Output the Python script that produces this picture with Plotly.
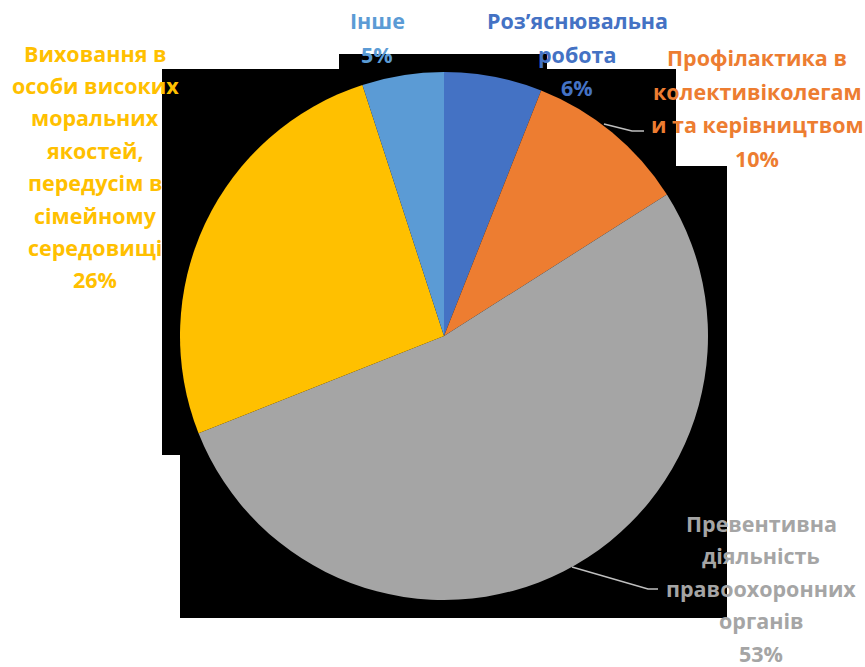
import plotly.graph_objects as go

# Survey shares, clockwise from 12 o'clock
categories = [
    "Роз’яснювальна робота",
    "Профілактика в колективіколегам и та керівництвом",
    "Превентивна діяльність правоохоронних органів",
    "Виховання в особи високих моральних якостей, передусім в сімейному середовищі",
    "Інше",
]
values = [6, 10, 53, 26, 5]
colors = ["#4472C4", "#ED7D31", "#A5A5A5", "#FFC000", "#5B9BD5"]

# Label text broken into display lines
label_lines = [
    ["Роз’яснювальна", "робота"],
    ["Профілактика в", "колективіколегам", "и та керівництвом"],
    ["Превентивна", "діяльність", "правоохоронних", "органів"],
    ["Виховання в", "особи високих", "моральних", "якостей,", "передусім в", "сімейному", "середовищі"],
    ["Інше"],
]

W, H = 865, 667


def px(x):
    return x / W


def py(y):
    return 1 - y / H


# label anchor: centre x and y of first line (pixels), line step
label_pos = [
    (577, 21, 33),
    (757, 58, 33.5),
    (761, 523, 32.5),
    (95, 53, 32.4),
    (377, 21, 34),
]

fig = go.Figure()

cx, cy, r = 444, 336, 264
fig.add_trace(go.Pie(
    labels=categories,
    values=values,
    sort=False,
    direction="clockwise",
    rotation=0,
    marker=dict(colors=colors, line=dict(width=0)),
    textinfo="none",
    hoverinfo="label+percent",
    showlegend=False,
    domain=dict(x=[px(cx - r), px(cx + r)], y=[py(cy + r), py(cy - r)]),
))

# dark backdrop behind the pie
shapes = []
for x0, y0, x1, y1 in [(162, 69, 727, 455), (180, 455, 727, 618), (339, 54, 547, 69)]:
    shapes.append(dict(type="rect", xref="paper", yref="paper",
                       x0=px(x0), x1=px(x1), y0=py(y1), y1=py(y0),
                       fillcolor="black", line=dict(width=0), layer="below"))
shapes.append(dict(type="rect", xref="paper", yref="paper",
                   x0=px(676), x1=px(728), y0=py(166), y1=py(68),
                   fillcolor="white", line=dict(width=0), layer="below"))

# leader lines
for pts in [[(604, 124), (632, 131), (644, 131)],
            [(572, 567), (648, 589), (658, 589)]]:
    path = "M " + " L ".join(f"{px(x)},{py(y)}" for x, y in pts)
    shapes.append(dict(type="path", xref="paper", yref="paper", path=path,
                       line=dict(color="#BFBFBF", width=1.5)))

annotations = []
total = sum(values)
for lines, v, col, (lx, ly, step) in zip(label_lines, values, colors, label_pos):
    texts = lines + [f"{round(100 * v / total)}%"]
    for i, t in enumerate(texts):
        annotations.append(dict(
            x=px(lx), y=py(ly + i * step), xref="paper", yref="paper",
            text=f"<b>{t}</b>", showarrow=False, xanchor="center", yanchor="middle",
            font=dict(family="Open Sans", size=21.5, color=col),
        ))

fig.update_layout(
    width=W, height=H,
    margin=dict(l=0, r=0, t=0, b=0),
    paper_bgcolor="white",
    plot_bgcolor="white",
    shapes=shapes,
    annotations=annotations,
)

fig.write_html("out.html")
